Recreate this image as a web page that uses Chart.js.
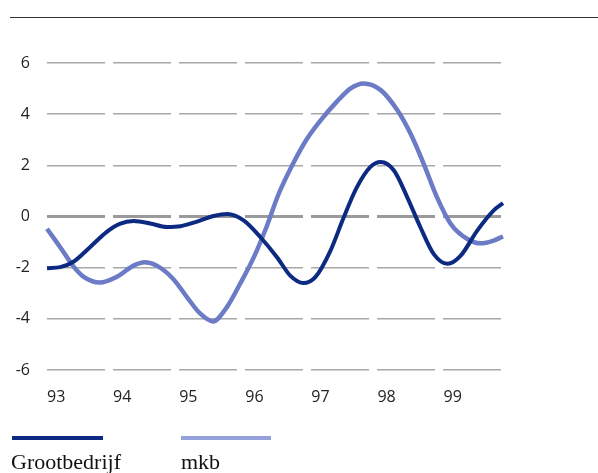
<!DOCTYPE html>
<html>
<head>
<meta charset="utf-8">
<script src="https://cdn.jsdelivr.net/npm/chart.js@4"></script>
<style>
  html, body { margin: 0; padding: 0; background: #fff; }
  #wrap { position: relative; width: 598px; height: 473px; overflow: hidden; }
  #rule { position: absolute; left: 10px; top: 17px; width: 588px; height: 0; border-top: 1.5px solid #333; }
  canvas { position: absolute; left: 0; top: 0; }
  .lg-line { position: absolute; height: 4px; top: 436px; }
  .lg-text { position: absolute; top: 449px; font-family: "Liberation Serif", "DejaVu Serif", serif; font-size: 22px; color: #111; }
</style>
</head>
<body>
<div id="wrap">
  <div id="rule"></div>
  <canvas id="c" width="598" height="473"></canvas>
  <div class="lg-line" id="lg1" style="left:12px;width:91px;"></div>
  <div class="lg-text" style="left:11px;">Grootbedrijf</div>
  <div class="lg-line" id="lg2" style="left:181px;width:90px;"></div>
  <div class="lg-text" style="left:181px;">mkb</div>
</div>
<script>
// Series names
const seriesNames = ["Grootbedrijf", "mkb"];
const seriesColors = ["#0c2a82", "#6b7bc6"];
const legendColors = ["#0c2a82", "#95a1db"];

// Grootbedrijf (x in years, y in %)
const grootX = [93.0, 93.2, 93.4, 93.65, 93.9, 94.1, 94.31, 94.56, 94.81, 95.02, 95.27, 95.52, 95.73, 95.98, 96.23, 96.48, 96.68, 96.88, 97.06, 97.29, 97.48, 97.68, 97.89, 98.05, 98.25, 98.45, 98.65, 98.85, 99.06, 99.26, 99.51, 99.76, 99.9];
const grootY = [-2.02, -1.98, -1.77, -1.2, -0.61, -0.29, -0.18, -0.27, -0.41, -0.38, -0.2, 0.02, 0.1, -0.16, -0.81, -1.59, -2.31, -2.6, -2.37, -1.33, -0.1, 1.1, 1.93, 2.13, 1.8, 0.76, -0.42, -1.46, -1.85, -1.53, -0.55, 0.24, 0.52];

// mkb
const mkbX = [93.0, 93.2, 93.4, 93.55, 93.8, 94.06, 94.31, 94.48, 94.66, 94.91, 95.12, 95.32, 95.51, 95.72, 95.92, 96.13, 96.33, 96.5, 96.73, 96.93, 97.14, 97.39, 97.59, 97.79, 98.05, 98.3, 98.5, 98.7, 98.9, 99.11, 99.36, 99.56, 99.76, 99.9];
const mkbY = [-0.48, -1.2, -1.95, -2.35, -2.58, -2.35, -1.92, -1.79, -1.92, -2.44, -3.16, -3.8, -4.1, -3.55, -2.64, -1.59, -0.35, 0.85, 2.1, 3.02, 3.76, 4.5, 5.0, 5.2, 4.94, 4.16, 3.24, 2.06, 0.76, -0.29, -0.88, -1.05, -0.94, -0.78];

// Axis ticks
const xTicks = [93, 94, 95, 96, 97, 98, 99];
const yTicks = [-6, -4, -2, 0, 2, 4, 6];

const toPts = (xs, ys) => xs.map((x, i) => ({ x: x, y: ys[i] }));

document.getElementById('lg1').style.background = legendColors[0];
document.getElementById('lg2').style.background = legendColors[1];

new Chart(document.getElementById('c'), {
  type: 'line',
  data: {
    datasets: [
      { label: seriesNames[0], data: toPts(grootX, grootY), borderColor: seriesColors[0], borderWidth: 4, pointRadius: 0, cubicInterpolationMode: 'monotone', fill: false },
      { label: seriesNames[1], data: toPts(mkbX, mkbY), borderColor: seriesColors[1], borderWidth: 4.5, pointRadius: 0, cubicInterpolationMode: 'monotone', fill: false }
    ]
  },
  options: {
    responsive: false,
    animation: false,
    clip: false,
    layout: { padding: { left: 0, right: 95, top: 63, bottom: 63 } },
    plugins: { legend: { display: false }, tooltip: { enabled: false } },
    scales: {
      x: {
        type: 'linear',
        min: 93,
        max: 99.9,
        afterBuildTicks: (s) => { s.ticks = xTicks.map(v => ({ value: v })); },
        afterFit: (s) => { s.height = 40; },
        grid: { display: false, drawTicks: false },
        border: { display: false },
        ticks: {
          align: 'start',
          padding: 18,
          color: '#222',
          font: { family: 'Open Sans', size: 16 },
          callback: (v) => String(v)
        }
      },
      y: {
        min: -6,
        max: 6,
        afterBuildTicks: (s) => { s.ticks = yTicks.map(v => ({ value: v })); },
        afterFit: (s) => { s.width = 47; },
        border: { display: false, dash: [58, 8] },
        grid: {
          drawTicks: false,
          color: (ctx) => ctx.tick && ctx.tick.value === 0 ? '#9a9a9a' : '#a8a8a8',
          lineWidth: (ctx) => ctx.tick && ctx.tick.value === 0 ? 3 : 1.5
        },
        ticks: {
          padding: 17,
          color: '#222',
          font: { family: 'Open Sans', size: 16 },
          callback: (v) => String(v)
        }
      }
    }
  }
});
</script>
</body>
</html>
